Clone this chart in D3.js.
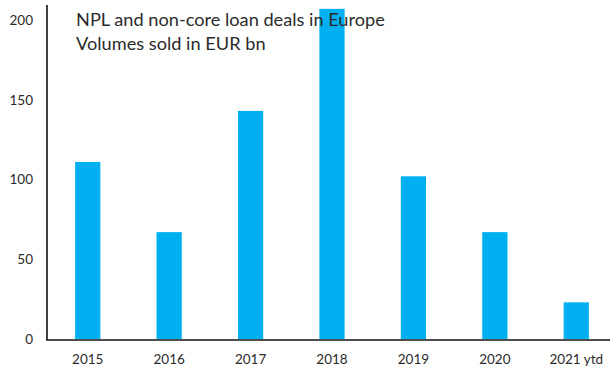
<!DOCTYPE html>
<html>
<head>
<meta charset="utf-8">
<script src="https://cdn.jsdelivr.net/npm/d3@7"></script>
<style>
  html, body { margin: 0; padding: 0; background: #fff; }
  svg { display: block; }
  text { font-family: Lato, "Open Sans", sans-serif; }
</style>
</head>
<body>
<svg id="chart" width="610" height="370"></svg>
<script>
// NPL and non-core loan deals in Europe, volumes sold (EUR bn)
const categories = ["2015", "2016", "2017", "2018", "2019", "2020", "2021 ytd"];
const volumes = [111, 67, 143, 207, 102, 67, 23];
const yTicks = [0, 50, 100, 150, 200];
const titleLines = ["NPL and non-core loan deals in Europe", "Volumes sold in EUR bn"];

const svg = d3.select("#chart");
const plotLeft = 47, plotRight = 617, plotTop = 5, plotBottom = 339;

const x = d3.scaleBand().domain(categories).range([plotLeft, plotRight]).paddingInner(0.69).paddingOuter(0.345);
const y = d3.scaleLinear().domain([0, 200]).range([plotBottom, 20]);

// bars
svg.append("g").selectAll("rect")
  .data(volumes)
  .join("rect")
  .attr("x", (d, i) => x(categories[i]))
  .attr("width", x.bandwidth())
  .attr("y", d => y(d))
  .attr("height", d => y(0) - y(d))
  .attr("fill", "#00B0F0");

// y axis
const yAxis = svg.append("g")
  .attr("transform", `translate(${plotLeft},0)`)
  .call(d3.axisLeft(y).tickValues(yTicks).tickSize(0).tickPadding(14));
yAxis.select(".domain").remove();
yAxis.selectAll("text").attr("font-size", 13.5).attr("fill", "#2b2b2b").attr("font-family", "Lato, sans-serif");
svg.append("line")
  .attr("x1", plotLeft).attr("x2", plotLeft).attr("y1", plotTop).attr("y2", plotBottom + 1)
  .attr("stroke", "#111").attr("stroke-width", 1.6);

// x axis
const xAxis = svg.append("g")
  .attr("transform", `translate(0,${plotBottom + 1})`)
  .call(d3.axisBottom(x).tickSize(0).tickPadding(14));
xAxis.select(".domain").remove();
xAxis.selectAll("text").attr("font-size", 13.5).attr("fill", "#2b2b2b").attr("font-family", "Lato, sans-serif");
svg.append("line")
  .attr("x1", plotLeft - 0.8).attr("x2", 610).attr("y1", plotBottom + 1).attr("y2", plotBottom + 1)
  .attr("stroke", "#111").attr("stroke-width", 1.6);

// title
svg.append("g").selectAll("text")
  .data(titleLines)
  .join("text")
  .attr("x", 76)
  .attr("y", (d, i) => 26 + i * 23.5)
  .attr("font-size", 18.2)
  .attr("fill", "#2b2b2b")
  .text(d => d);
</script>
</body>
</html>
